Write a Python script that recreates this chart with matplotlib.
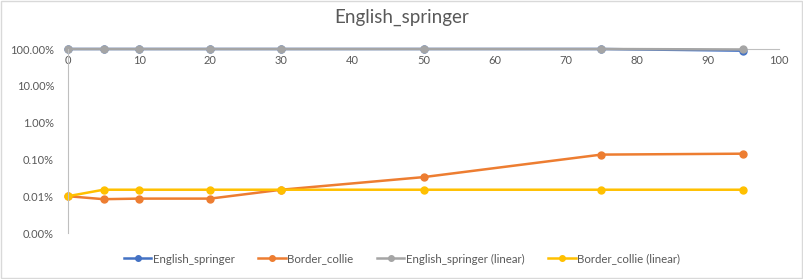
import matplotlib.pyplot as plt
from matplotlib.patches import Rectangle
from matplotlib.ticker import FuncFormatter, FixedLocator

x = [0, 5, 10, 20, 30, 50, 75, 95]
english_springer = [1.0, 1.0, 1.0, 1.0, 1.0, 1.0, 1.0, 0.9]
border_collie = [1.0e-4, 8.3e-5, 8.6e-5, 8.6e-5, 1.5e-4, 3.3e-4, 1.35e-3, 1.43e-3]
english_springer_linear = [1.0, 1.0, 1.0, 1.0, 1.0, 1.0, 1.0, 0.97]
border_collie_linear = [1.0e-4, 1.5e-4, 1.5e-4, 1.5e-4, 1.5e-4, 1.5e-4, 1.5e-4, 1.5e-4]

series = [
    ("English_springer", english_springer, "#4472C4"),
    ("Border_collie", border_collie, "#ED7D31"),
    ("English_springer (linear)", english_springer_linear, "#A5A5A5"),
    ("Border_collie (linear)", border_collie_linear, "#FFC000"),
]

plt.rcParams["font.family"] = ["Lato", "DejaVu Sans"]
text_color = "#595959"
axis_color = "#BFBFBF"

fig = plt.figure(figsize=(8.04, 2.79), dpi=100)
ax = fig.add_axes([68 / 804, 1 - 233 / 279, (779 - 68) / 804, (233 - 49) / 279])

for name, vals, col in series:
    ax.plot(x, vals, "-o", color=col, lw=1.8, ms=5, label=name, clip_on=False)

ax.set_yscale("log")
ax.set_ylim(1e-5, 1)
ax.set_xlim(0, 100)
ax.yaxis.set_major_locator(FixedLocator([1e-5, 1e-4, 1e-3, 1e-2, 1e-1, 1]))
ax.yaxis.set_minor_locator(FixedLocator([]))
ax.yaxis.set_major_formatter(FuncFormatter(lambda v, p: f"{v * 100:.2f}%"))
ax.set_xticks(range(0, 101, 10))

for s in ["top", "right"]:
    ax.spines[s].set_visible(False)
ax.spines["bottom"].set_position(("data", 1.0))
ax.spines["bottom"].set_color(axis_color)
ax.spines["left"].set_color(axis_color)
ax.spines["bottom"].set_zorder(0)
ax.tick_params(axis="both", length=0, colors=text_color, labelsize=8)
ax.tick_params(axis="x", pad=4)
ax.tick_params(axis="y", pad=10)

fig.text(0.5, 1 - 17 / 279, "English_springer", color=text_color, fontsize=13.5,
         ha="center", va="center")

leg = fig.legend(loc="center", bbox_to_anchor=(0.5, 1 - 259 / 279), ncol=4,
                 frameon=False, fontsize=8.3, handlelength=2.4, columnspacing=2.0,
                 handletextpad=0.15, markerscale=0.8)
for t in leg.get_texts():
    t.set_color(text_color)

fig.patches.append(Rectangle((0.001, 0.002), 0.997, 0.995, transform=fig.transFigure,
                             fill=False, edgecolor="#D9D9D9", lw=1))

fig.savefig("out.png", dpi=100)
